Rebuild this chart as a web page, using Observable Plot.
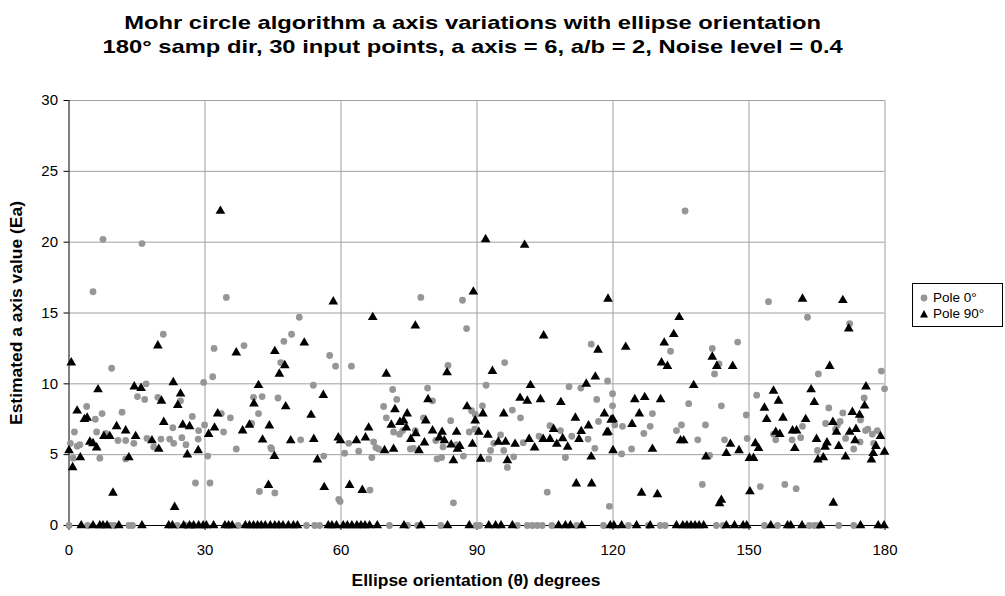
<!DOCTYPE html>
<html><head><meta charset="utf-8">
<script src="https://cdn.jsdelivr.net/npm/d3@7"></script>
<script src="https://cdn.jsdelivr.net/npm/@observablehq/plot@0.6"></script>
<style>
body{margin:0;background:#fff;font-family:"Liberation Sans",Arial,sans-serif;}
#wrap{position:relative;width:1005px;height:596px;overflow:hidden;background:#fff;}
#title{position:absolute;left:0;top:11px;width:945px;text-align:center;font-weight:bold;font-size:19px;line-height:24px;transform:scaleX(1.25);transform-origin:472px 0;}
#chart{position:absolute;left:0;top:60px;}
#ylab{position:absolute;left:17px;top:313px;transform:translate(-50%,-50%) rotate(-90deg) scaleX(1.09);font-weight:bold;font-size:16px;white-space:nowrap;}
#xlab{position:absolute;left:476px;top:581px;transform:translate(-50%,-50%) scaleX(1.09);font-weight:bold;font-size:16px;white-space:nowrap;}
#legend{position:absolute;left:912px;top:283px;width:89px;height:42px;border:1px solid #000;font-size:13.5px;background:#fff;}
.li{position:absolute;left:6px;height:16px;line-height:16px;white-space:nowrap;}
.li svg{vertical-align:middle;margin-right:4px;}
</style>
</head><body>
<div id="wrap">
  <div id="title">Mohr circle algorithm a axis variations with ellipse orientation<br>180° samp dir, 30 input points, a axis = 6, a/b = 2, Noise level = 0.4</div>
  <div id="chart"></div>
  <div id="ylab">Estimated a axis value (Ea)</div>
  <div id="xlab">Ellipse orientation (θ) degrees</div>
  <div id="legend">
    <div class="li" style="top:6px"><svg width="10" height="10"><circle cx="5" cy="5" r="3.4" fill="#969696"/></svg>Pole 0°</div>
    <div class="li" style="top:22px"><svg width="10" height="10"><path d="M5,1L9,8.5L1,8.5Z" fill="#000"/></svg>Pole 90°</div>
  </div>
</div>
<script>
const xTicks = [0, 30, 60, 90, 120, 150, 180];
const yTicks = [0, 5, 10, 15, 20, 25, 30];

// Pole 0° series: [orientation, estimated a axis]
const pole0 = [
  [7.5,20.2],[5.3,16.5],[9.4,11.1],[15.1,9.1],[3.9,8.4],[7.3,7.9],[11.7,8.0],[5.8,7.5],[1.2,6.6],[6.1,6.6],
  [8.1,6.5],[10.8,6.0],[12.5,6.0],[14.3,5.8],[0.3,5.8],[1.8,5.6],[2.4,5.7],[0.9,4.75],[6.8,4.75],[12.5,4.7],
  [0,0],[4.1,0],[9.2,0],[10,0],[13.2,0],[14,0],
  [16.1,19.9],[20.8,13.5],[17.0,10.0],[29.7,10.1],[16.7,8.9],[19.6,9.05],[24.6,8.8],[27.2,7.7],[22.9,6.9],[28.6,6.7],
  [29.9,7.1],[17.2,6.15],[18.7,5.55],[20.3,6.1],[22.2,6.1],[23.1,5.8],[24.9,6.2],[25.8,5.7],[28.5,6.1],[27.9,3.0],
  [23.9,0],[25.7,0],[27.2,0],
  [34.7,16.1],[32.0,12.5],[38.6,12.7],[31.7,10.5],[40.7,9.05],[42.6,9.1],[41.8,7.9],[33.6,7.9],[35.6,7.6],[34.1,6.6],
  [40.3,7.2],[44.5,5.5],[30.6,4.9],[36.9,5.4],[31.1,3.0],[42.0,2.4],[45.4,2.3],
  [37.3,0],
  [50.8,14.7],[49.1,13.5],[47.4,13.0],[57.5,12.0],[58.8,11.25],[46.7,11.5],[53.9,9.9],[46.1,9.0],[51.1,6.05],[44.7,5.4],
  [56.2,4.9],[59.5,1.85],[59.8,1.7],
  [52.4,0],[54.2,0],[55.3,0],
  [62.3,11.25],[71.4,9.6],[72.3,8.9],[69.4,8.4],[70.0,7.6],[71.6,6.6],[72.9,6.45],[61.7,5.8],[60.8,5.1],[63.9,5.25],
  [67.2,5.9],[67.7,5.5],[68.3,5.4],[66.8,4.8],[75.3,5.4],[66.4,2.5],
  [70.7,0],
  [77.6,16.1],[86.8,15.9],[87.7,13.9],[83.6,11.3],[79.1,9.7],[80.2,8.8],[88.8,8.1],[78.2,7.6],[84.2,7.4],[89.6,7.85],
  [73.6,6.7],[76.4,6.7],[76.0,5.45],[80.9,6.0],[82.5,5.55],[85.5,5.7],[88.3,6.6],[81.2,4.7],[82.2,4.8],[87.0,4.9],[84.8,1.6],
  [74.7,0],[76.9,0],[82.0,0],[89.8,0],
  [96.1,11.5],[92.0,9.9],[91.2,8.45],[97.8,8.15],[99.6,7.6],[89.5,6.8],[95.2,6.4],[93.7,5.8],[100.2,5.85],[103.7,6.3],
  [93.0,5.3],[95.9,5.3],[98.1,4.85],[92.6,4.7],[96.7,4.1],[105.5,2.35],
  [90.6,0],[98.9,0],[101.1,0],[102.2,0],[103.3,0],[104.4,0],
  [115.2,12.8],[118.8,10.2],[110.3,9.8],[112.9,9.7],[116.4,8.9],[119.9,9.3],[119.9,8.45],[116.8,7.35],[106.1,7.05],[108.4,6.7],
  [110.9,6.3],[114.5,6.1],[116.0,5.45],[109.5,4.8],[119.2,1.35],
  [106.5,0],[112.0,0],[117.9,0],
  [135.9,22.2],[132.7,12.3],[128.7,7.9],[120.4,7.1],[122.1,7.0],[128.2,7.0],[126.8,6.5],[134.0,6.7],[135.1,7.1],[121.9,5.05],[124.1,5.4],
  [123.4,0],[127.8,0],[130.4,0],[131.5,0],
  [147.5,12.95],[141.9,12.5],[143.4,11.4],[142.4,10.7],[136.7,8.6],[143.9,8.45],[149.4,7.8],[140.4,7.1],[138.7,6.05],[144.6,6.05],
  [149.6,6.15],[141.3,4.95],[139.7,2.9],
  [142.8,0],[144.3,0],
  [154.3,15.8],[162.9,14.7],[165.3,10.7],[151.7,9.2],[161.8,7.0],[155.4,6.45],[155.9,6.05],[159.5,6.05],[161.4,6.2],[165.1,5.3],
  [152.5,2.75],[157.9,2.9],[160.4,2.6],
  [153.4,0],[156.3,0],[163.3,0],[164.4,0],[165.3,0],
  [172.2,14.25],[179.2,10.9],[179.9,9.65],[175.4,9.0],[167.6,8.3],[170.7,7.95],[174.6,7.45],[166.9,7.2],[169.5,7.1],[170.1,7.35],
  [169.1,6.8],[171.3,6.15],[175.7,6.7],[177.2,6.45],[178.3,6.7],[176.2,6.8],[173.1,5.4],[174.5,5.9],[177.5,5.8],
  [169.8,0],[173.1,0]
];

// Pole 90° series: [orientation, estimated a axis]
const pole90 = [
  [0.5,11.5],[6.4,9.6],[14.4,9.8],[1.8,8.1],[3.4,7.5],[4.0,7.6],[10.5,7.0],[12.5,6.7],[7.7,6.3],[9.0,6.3],
  [14.7,6.3],[4.6,5.9],[5.3,5.8],[6.1,5.5],[0,5.3],[2.5,4.8],[0.8,4.1],[13.2,4.8],[9.7,2.3],
  [2.7,0],[5.3,0],[6.8,0],[7.5,0],[8.4,0],[11.0,0],
  [19.6,12.7],[15.9,9.7],[23.0,10.1],[20.4,8.8],[24.6,9.3],[24.0,8.5],[20.9,7.3],[25.1,7.1],[26.6,7.0],[18.3,6.0],
  [19.8,5.4],[26.1,5.0],[28.5,5.3],[23.3,1.3],
  [16.1,0],[22.0,0],[22.8,0],[25.3,0],[26.6,0],[27.5,0],[28.6,0],[29.6,0],
  [33.4,22.2],[36.9,12.2],[45.4,12.3],[41.8,9.9],[40.8,8.6],[32.8,7.9],[32.1,6.9],[30.8,6.45],[38.3,6.7],[39.8,7.1],
  [44.2,7.05],[42.7,6.05],[45.3,4.9],[44.0,2.85],
  [30.3,0],[31.9,0],[34.4,0],[35.2,0],[36.0,0],[38.9,0],[39.8,0],[40.7,0],[41.6,0],[42.4,0],[43.3,0],[44.4,0],
  [58.3,15.8],[51.9,12.9],[47.6,11.3],[46.4,10.7],[56.1,9.2],[47.8,8.4],[53.4,7.8],[48.9,6.0],[54.0,6.1],[59.4,6.2],
  [54.8,4.65],[56.3,2.7],
  [45.4,0],[46.3,0],[47.2,0],[48.4,0],[49.5,0],[50.4,0],[57.2,0],[58.0,0],[59.0,0],
  [67.0,14.7],[70.0,10.7],[71.9,8.2],[74.6,7.9],[71.1,7.1],[73.0,7.3],[73.8,7.4],[74.4,6.9],[66.1,6.9],[59.9,6.0],
  [63.4,6.0],[65.4,6.2],[69.6,5.3],[71.6,5.4],[61.9,2.85],[64.7,2.5],
  [60.5,0],[61.4,0],[62.4,0],[63.5,0],[64.4,0],[65.3,0],[66.3,0],[68.0,0],[73.9,0],
  [89.2,16.5],[76.4,14.1],[83.4,10.8],[79.2,8.9],[87.8,8.4],[78.7,7.4],[89.6,7.4],[76.5,6.5],[75.4,6.1],[80.2,6.7],
  [82.3,6.6],[81.7,6.2],[82.8,6.0],[84.3,5.7],[85.5,6.6],[86.2,5.6],[85.7,5.4],[89.0,5.75],[78.4,5.85],[77.2,5.3],[84.8,4.6],
  [77.6,0],[83.5,0],[88.3,0],
  [91.9,20.2],[100.5,19.8],[104.7,13.4],[93.4,10.9],[101.8,9.9],[99.5,9.0],[101.1,8.8],[104.0,8.9],[91.3,7.9],[95.9,7.9],
  [90.4,6.6],[92.4,6.4],[94.7,5.9],[96.3,5.9],[98.4,5.75],[101.5,6.1],[102.7,5.5],[104.6,6.1],[90.8,4.7],[96.7,4.6],
  [92.6,0],[94.1,0],[95.3,0],[97.8,0],
  [118.9,16.0],[116.7,12.4],[116.1,10.5],[114.1,10.0],[108.5,8.7],[118.1,7.9],[111.7,7.6],[119.6,7.45],[106.9,6.8],[113.0,6.65],
  [114.6,7.05],[118.6,6.55],[106.1,6.1],[107.6,5.75],[108.9,6.15],[110.0,5.55],[112.5,6.1],[115.2,4.85],[120.0,5.3],[111.9,2.95],[115.3,2.95],
  [108.0,0],[109.5,0],[110.6,0],[113.1,0],[119.4,0],
  [134.6,14.7],[133.4,13.5],[122.8,12.6],[131.3,12.9],[130.7,11.5],[132.0,11.25],[124.8,8.9],[127.0,9.05],[130.5,8.9],[125.8,7.9],
  [120.0,7.5],[124.2,7.15],[118.9,6.6],[134.9,6.0],[128.7,5.4],[126.3,2.3],[129.8,2.2],
  [120.2,0],[121.9,0],[125.2,0],[128.2,0],[134.0,0],
  [141.9,11.9],[142.9,11.25],[146.4,11.25],[137.8,9.9],[135.6,6.0],[145.9,5.75],[147.8,5.3],[145.0,5.1],[140.5,4.85],[150.1,4.75],
  [143.9,1.8],[143.5,1.55],[150.2,2.4],
  [135.4,0],[136.3,0],[137.2,0],[138.1,0],[139.0,0],[140.0,0],[145.0,0],[146.8,0],[148.7,0],
  [161.8,16.0],[155.4,9.5],[156.5,8.8],[163.7,9.6],[164.4,8.7],[153.4,8.3],[153.9,7.5],[157.5,7.6],[162.5,7.5],[155.9,6.6],
  [156.8,6.45],[159.6,6.7],[160.5,6.7],[151.4,5.8],[152.1,5.45],[160.1,5.45],[164.9,6.1],[151.0,4.75],
  [149.5,0],[154.8,0],[158.5,0],[159.2,0],[161.7,0],
  [170.7,15.9],[172.0,13.9],[167.8,11.25],[175.8,9.8],[175.5,8.45],[172.8,8.0],[174.4,7.8],[168.5,7.3],[169.3,6.6],[172.2,6.6],
  [173.6,6.8],[167.2,5.85],[166.8,5.55],[169.8,5.6],[173.4,6.0],[179.0,6.3],[178.0,5.6],[177.4,5.1],[179.9,5.2],[177.0,4.65],
  [171.3,4.85],[165.2,4.65],[166.4,4.8],[168.6,1.6],
  [165.8,0],[174.6,0],[178.5,0],[179.8,0]
];

const chart = Plot.plot({
  width: 1005,
  height: 536,
  marginLeft: 68.5,
  marginRight: 120.5,
  marginTop: 40,
  marginBottom: 71,
  style: {fontFamily: "'Liberation Sans', Arial, sans-serif", fontSize: "15px", color: "#000", background: "#fff"},
  x: {domain: [0, 180], ticks: xTicks, label: null},
  y: {domain: [0, 30], ticks: yTicks, label: null},
  marks: [
    Plot.gridX(xTicks.filter(d => d > 0), {stroke: "#a0a0a0", strokeOpacity: 1}),
    Plot.gridY(yTicks.filter(d => d > 0), {stroke: "#a0a0a0", strokeOpacity: 1}),
    Plot.axisX(xTicks, {tickSize: 5, tickPadding: 14, label: null}),
    Plot.axisY(yTicks, {tickSize: 5, tickPadding: 6, label: null}),
    Plot.ruleX([0], {stroke: "#000"}),
    Plot.ruleY([0], {stroke: "#000"}),
    Plot.dot(pole0, {x: d => d[0], y: d => d[1], r: 3.4, fill: "#969696", stroke: null}),
    Plot.dot(pole90, {x: d => d[0], y: d => d[1], r: 3.6, symbol: "triangle", fill: "#000", stroke: null})
  ]
});
document.getElementById("chart").appendChild(chart);
</script>
</body></html>
